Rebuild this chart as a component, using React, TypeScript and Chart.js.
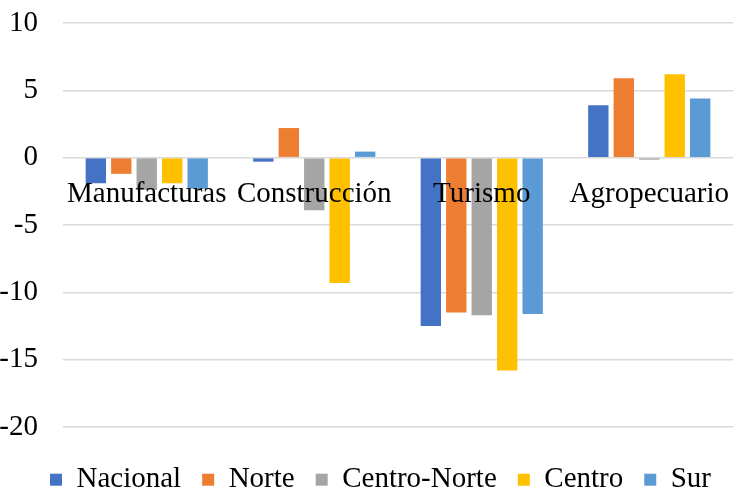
import React, { useEffect, useRef } from "react";
import { Chart, registerables } from "chart.js";

Chart.register(...registerables);

const categories = ["Manufacturas", "Construcción", "Turismo", "Agropecuario"];
const seriesNames = ["Nacional", "Norte", "Centro-Norte", "Centro", "Sur"];
const nacional = [-1.9, -0.3, -12.5, 3.9];
const norte = [-1.2, 2.2, -11.5, 5.9];
const centroNorte = [-2.4, -3.9, -11.7, -0.15];
const centro = [-1.9, -9.3, -15.8, 6.2];
const sur = [-2.3, 0.45, -11.6, 4.4];
const colors = ["#4472C4", "#ED7D31", "#A5A5A5", "#FFC000", "#5B9BD5"];
const yTicks = [10, 5, 0, -5, -10, -15, -20];

const FONT = "'Liberation Serif', 'Times New Roman', serif";
const FS = 29;

const widenYLabelArea = {
  id: "widenYLabelArea",
  afterLayout(chart: any) {
    const y = chart.scales.y;
    if (y) y.left = 0;
  },
};

export default function App() {
  const ref = useRef<HTMLCanvasElement | null>(null);
  useEffect(() => {
    document.body.style.margin = "0";
    const values = [nacional, norte, centroNorte, centro, sur];
    const chart = new Chart(ref.current!, {
      type: "bar",
      data: {
        labels: categories,
        datasets: seriesNames.map((name, i) => ({
          label: name,
          data: values[i],
          backgroundColor: colors[i],
          borderWidth: 0,
          barPercentage: 0.8,
          categoryPercentage: 0.76,
        })),
      },
      plugins: [widenYLabelArea],
      options: {
        animation: false,
        responsive: false,
        layout: { padding: { left: 28, right: 2, top: 23, bottom: 0 } },
        plugins: {
          tooltip: { enabled: false },
          legend: {
            position: "bottom",
            maxHeight: 67,
            title: { display: true, text: " ", font: { size: 1 }, padding: { top: 0, bottom: 16 } },
            labels: {
              font: { family: FONT, size: FS },
              color: "#000",
              boxWidth: 12,
              boxHeight: 12,
              padding: 21,
            },
          },
        },
        scales: {
          x: {
            position: { y: 0 } as any,
            grid: { display: false, drawTicks: false },
            border: { display: false },
            afterFit: (s: any) => {
              s.paddingLeft = 0;
              s.paddingRight = 0;
            },
            ticks: {
              z: 1,
              font: { family: FONT, size: FS },
              color: "#000",
              padding: 19,
              maxRotation: 0,
              autoSkip: false,
            },
          },
          y: {
            min: -20,
            max: 10,
            afterBuildTicks: (s: any) => {
              s.ticks = yTicks.map((v) => ({ value: v }));
            },
            afterFit: (s: any) => {
              s.paddingTop = 0;
              s.paddingBottom = 0;
              s.width = 35;
            },
            grid: { color: "#D9D9D9", lineWidth: 1.5, drawTicks: false },
            border: { display: false },
            ticks: {
              font: { family: FONT, size: FS },
              color: "#000",
              padding: 25,
            },
          },
        },
      },
    });
    return () => chart.destroy();
  }, []);
  return (
    <div style={{ position: "absolute", left: 0, top: 0, width: 735, height: 494 }}>
      <canvas ref={ref} width={735} height={494} />
    </div>
  );
}
